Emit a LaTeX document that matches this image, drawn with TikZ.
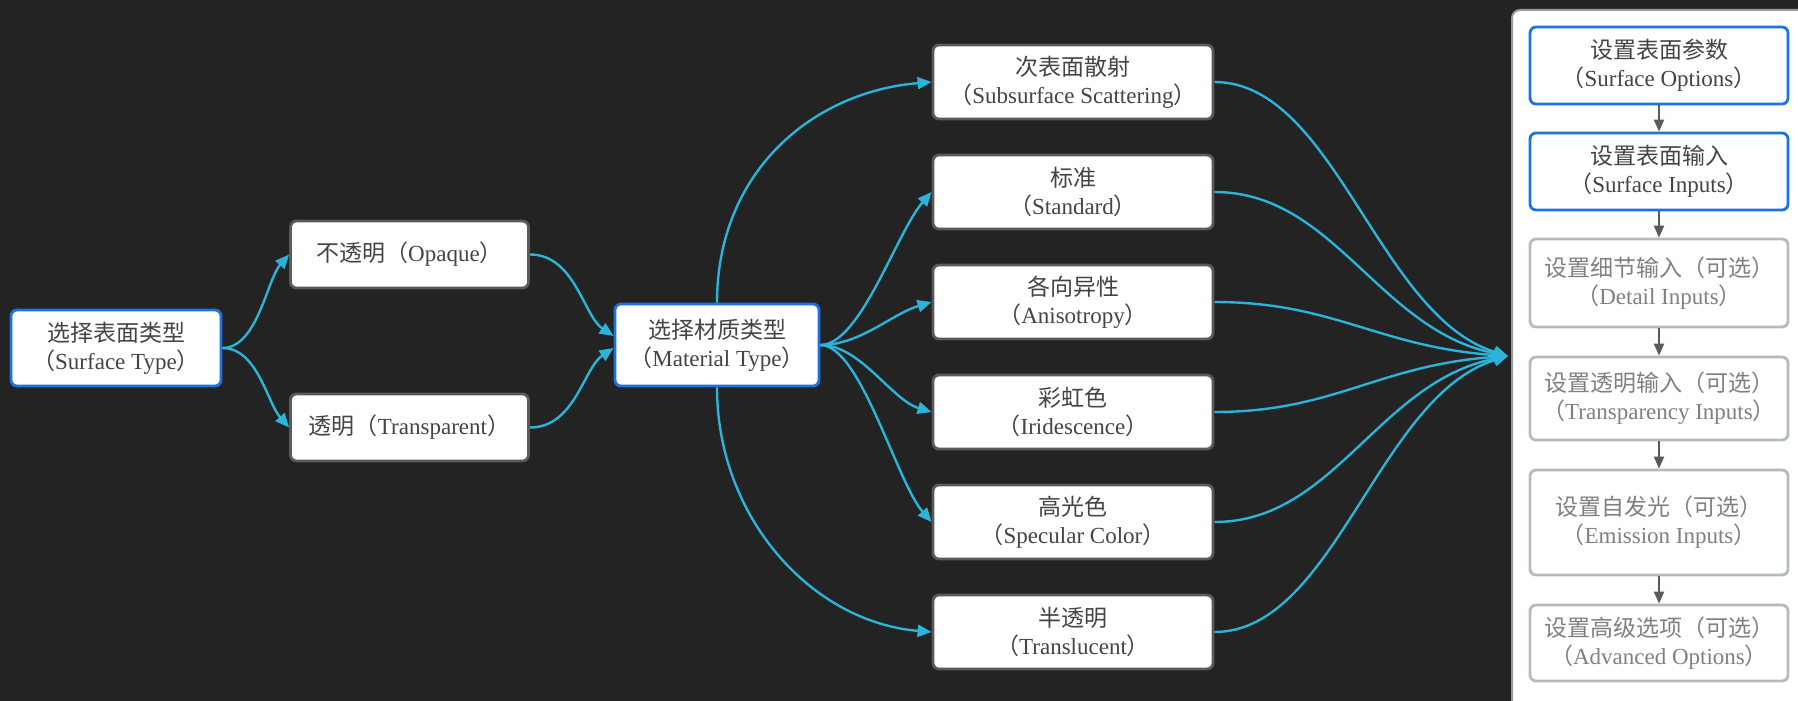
\documentclass[tikz,border=0pt]{standalone}
\usepackage{fontspec}
\setmainfont{Liberation Serif}
\newfontfamily\cjk{Noto Sans CJK SC}
\usetikzlibrary{arrows.meta}
\definecolor{bg}{HTML}{232323}
\definecolor{bluec}{HTML}{1C72E0}
\definecolor{linkc}{HTML}{2BB3D9}
\definecolor{boxgray}{HTML}{5A5A5A}
\definecolor{optgray}{HTML}{B4BBBB}
\definecolor{txt}{HTML}{444444}
\definecolor{opttxt}{HTML}{808080}
\definecolor{arrgray}{HTML}{595959}
\definecolor{panelgray}{HTML}{9A9A9A}
\newcommand\zh[1]{{\cjk #1}}
\newcommand\lp{\zh{（}}
\newcommand\rp{\zh{）}}
\begin{document}
\begin{tikzpicture}[x=0.5pt,y=-0.5pt,
  box/.style={draw=boxgray, line width=1.4pt, rounded corners=3pt, fill=white, text=txt,
    align=center, inner sep=0pt, font=\fontsize{11.5}{14}\selectfont},
  bluebox/.style={box, draw=bluec},
  optbox/.style={box, draw=optgray, text=opttxt},
  midbox/.style={box, minimum width=140pt, minimum height=37pt},
  rbox/.style={minimum width=129pt},
  link/.style={draw=linkc, line width=1.2pt, -{Triangle[length=7pt,width=6pt]}},
  flow/.style={draw=arrgray, line width=1pt, -{Triangle[length=6pt,width=5pt]}}]
\fill[bg] (0,0) rectangle (1798,701);
\useasboundingbox (0,0) rectangle (1798,701);
% right panel
\draw[draw=panelgray, line width=1pt, fill=white, rounded corners=4pt] (1512,10) rectangle (1840,740);

% left nodes
\node[bluebox, minimum width=105pt, minimum height=38pt] (st) at (116,348) {\zh{选择表面类型}\\\lp Surface Type\rp};
\node[box, minimum width=119pt, minimum height=33.5pt] (op) at (409.5,254.5) {\zh{不透明}\lp Opaque\rp};
\node[box, minimum width=119pt, minimum height=33.5pt] (tr) at (409.5,427.5) {\zh{透明}\lp Transparent\rp};
\node[bluebox, minimum width=102pt, minimum height=41pt] (mt) at (717,345) {\zh{选择材质类型}\\\lp Material Type\rp};

% middle nodes
\node[midbox] (sss) at (1073,82) {\zh{次表面散射}\\\lp Subsurface Scattering\rp};
\node[midbox] (std) at (1073,192) {\zh{标准}\\\lp Standard\rp};
\node[midbox] (ani) at (1073,302) {\zh{各向异性}\\\lp Anisotropy\rp};
\node[midbox] (iri) at (1073,412) {\zh{彩虹色}\\\lp Iridescence\rp};
\node[midbox] (spc) at (1073,522) {\zh{高光色}\\\lp Specular Color\rp};
\node[midbox] (tlc) at (1073,632) {\zh{半透明}\\\lp Translucent\rp};

% right nodes
\node[bluebox, rbox, minimum height=38.5pt] (so) at (1659,65.5) {\zh{设置表面参数}\\\lp Surface Options\rp};
\node[bluebox, rbox, minimum height=38.5pt] (si) at (1659,171.5) {\zh{设置表面输入}\\\lp Surface Inputs\rp};
\node[optbox, rbox, minimum height=44pt] (di) at (1659,283) {\zh{设置细节输入（可选）}\\\lp Detail Inputs\rp};
\node[optbox, rbox, minimum height=41.5pt] (ti) at (1659,398.5) {\zh{设置透明输入（可选）}\\\lp Transparency Inputs\rp};
\node[optbox, rbox, minimum height=52.5pt] (ei) at (1659,522.5) {\zh{设置自发光（可选）}\\\lp Emission Inputs\rp};
\node[optbox, rbox, minimum height=38pt] (ao) at (1659,643) {\zh{设置高级选项（可选）}\\\lp Advanced Options\rp};

\coordinate (conv) at (1508,356);

% links
\draw[link] (st.east) .. controls +(35,0) and +(-22,25) .. (op.west);
\draw[link] (st.east) .. controls +(35,0) and +(-22,-25) .. (tr.west);
\draw[link] (op.east) .. controls +(45,0) and +(-30,-20) .. ([yshift=4.5pt]mt.west);
\draw[link] (tr.east) .. controls +(45,0) and +(-30,20) .. ([yshift=-1.5pt]mt.west);

\draw[link] (mt.north) .. controls +(0,-130) and +(-120,10) .. (sss.west);
\draw[link] (mt.east) .. controls +(40,0) and +(-35,40) .. (std.west);
\draw[link] (mt.east) .. controls +(40,0) and +(-40,12) .. (ani.west);
\draw[link] (mt.east) .. controls +(40,0) and +(-40,-12) .. (iri.west);
\draw[link] (mt.east) .. controls +(40,0) and +(-35,-40) .. (spc.west);
\draw[link] (mt.south) .. controls +(0,130) and +(-120,-10) .. (tlc.west);

\draw[link] (sss.east) .. controls +(120,0) and +(-130,-40) .. (conv);
\draw[link] (std.east) .. controls +(120,0) and +(-130,-26) .. (conv);
\draw[link] (ani.east) .. controls +(120,0) and +(-130,-9) .. (conv);
\draw[link] (iri.east) .. controls +(120,0) and +(-130,9) .. (conv);
\draw[link] (spc.east) .. controls +(120,0) and +(-130,26) .. (conv);
\draw[link] (tlc.east) .. controls +(120,0) and +(-130,40) .. (conv);

% flow in panel
\draw[flow] (so.south) -- (si.north);
\draw[flow] (si.south) -- (di.north);
\draw[flow] (di.south) -- (ti.north);
\draw[flow] (ti.south) -- (ei.north);
\draw[flow] (ei.south) -- (ao.north);
\end{tikzpicture}
\end{document}
